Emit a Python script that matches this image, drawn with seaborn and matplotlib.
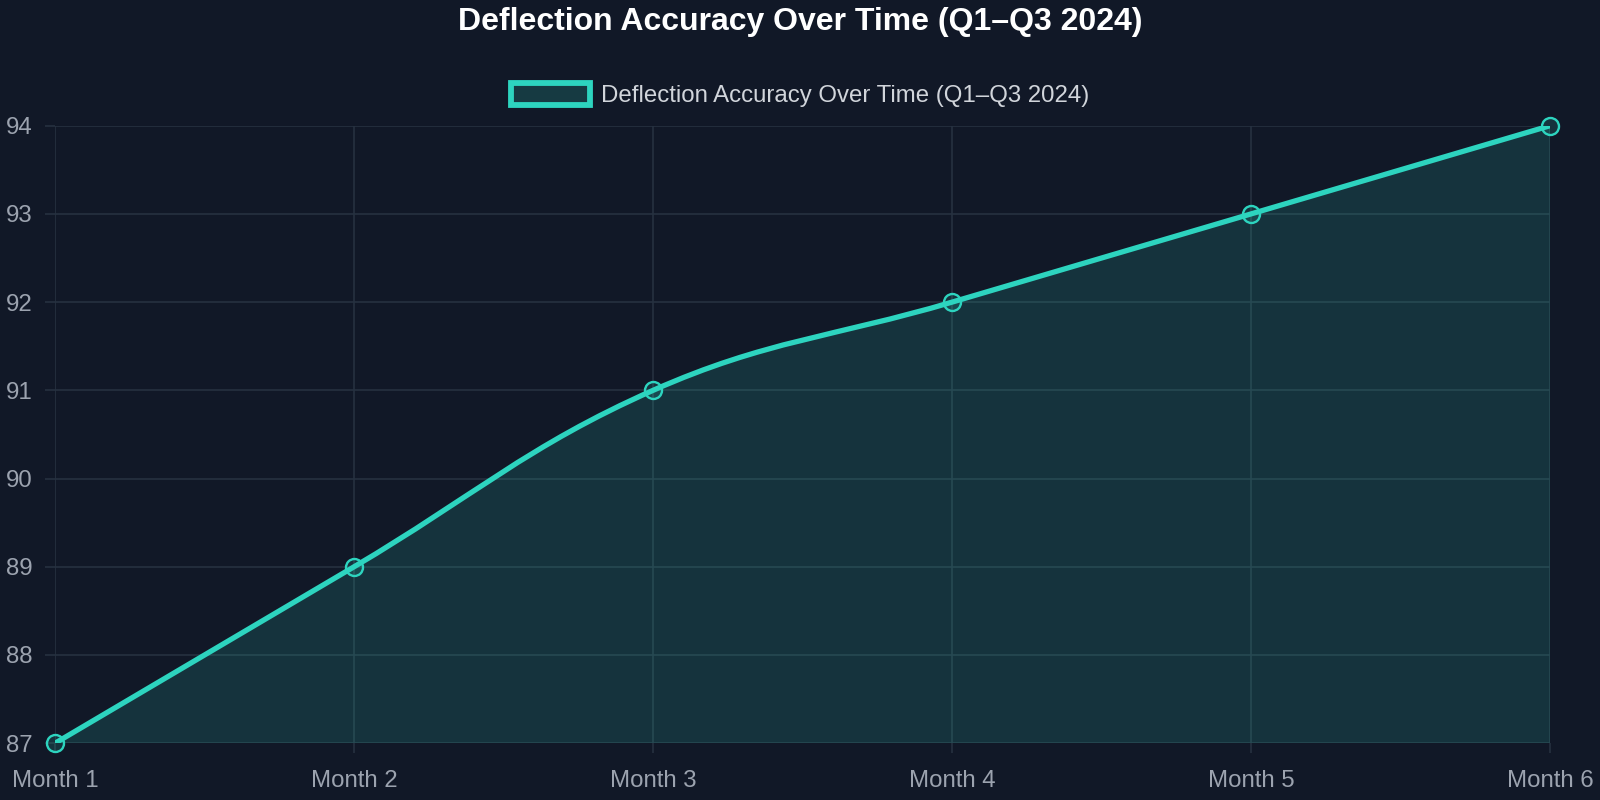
import numpy as np
import matplotlib
matplotlib.use("Agg")
import matplotlib.pyplot as plt
import seaborn as sns
from matplotlib.path import Path
from matplotlib.patches import PathPatch, Rectangle

months = ["Month 1", "Month 2", "Month 3", "Month 4", "Month 5", "Month 6"]
accuracy = [87, 89, 91, 92, 93, 94]
series_name = "Deflection Accuracy Over Time (Q1\u2013Q3 2024)"
y_ticks = [87, 88, 89, 90, 91, 92, 93, 94]

BG = "#111827"
GRID = "#263140"
TEAL = "#2dd4bf"
FILL = (45 / 255, 212 / 255, 191 / 255, 0.15)

sns.set_theme(style="dark")
plt.rcParams["font.family"] = ["Liberation Sans", "DejaVu Sans"]


def spline_path(ax, xs, ys, tension=0.4):
    """Chart.js-style cubic bezier through the points, computed in pixel space."""
    pts = ax.transData.transform(np.column_stack([xs, ys]))
    n = len(pts)
    cps = []
    for i in range(n):
        prev = pts[i - 1] if i > 0 else pts[i]
        cur = pts[i]
        nxt = pts[i + 1] if i < n - 1 else pts[i]
        d01 = np.hypot(*(cur - prev))
        d12 = np.hypot(*(nxt - cur))
        tot = d01 + d12
        s01 = d01 / tot if tot else 0
        s12 = d12 / tot if tot else 0
        cp1 = cur - tension * s01 * (nxt - prev)
        cp2 = cur + tension * s12 * (nxt - prev)
        cps.append((cp1, cp2))
    verts = [pts[0]]
    codes = [Path.MOVETO]
    for i in range(1, n):
        verts += [cps[i - 1][1], cps[i][0], pts[i]]
        codes += [Path.CURVE4] * 3
    inv = ax.transData.inverted()
    return inv.transform(np.array(verts)), codes


fig = plt.figure(figsize=(16, 8), dpi=100, facecolor=BG)
ax = fig.add_axes([0.0344, 0.071, 0.9346, 0.772])
ax.set_facecolor(BG)

x = np.arange(len(months))
ax.set_xlim(0, len(months) - 1)
ax.set_ylim(min(y_ticks), max(y_ticks))

verts, codes = spline_path(ax, x, accuracy)

# filled area below the curve
fill_verts = np.vstack([verts, [[x[-1], y_ticks[0]], [x[0], y_ticks[0]], verts[0]]])
fill_codes = codes + [Path.LINETO, Path.LINETO, Path.CLOSEPOLY]
ax.add_patch(PathPatch(Path(fill_verts, fill_codes), facecolor=FILL, edgecolor="none", zorder=1))
ax.add_patch(PathPatch(Path(verts, codes), facecolor="none", edgecolor=TEAL, lw=3.8,
                       capstyle="round", joinstyle="round", zorder=3))

sns.scatterplot(x=x, y=accuracy, ax=ax, s=150, marker="o", facecolor=FILL,
                edgecolor=TEAL, linewidth=1.7, zorder=4, clip_on=False)

ax.set_xticks(x)
ax.set_xticklabels(months)
ax.set_yticks(y_ticks)
ax.grid(True, color=GRID, lw=1.2)
ax.set_axisbelow(True)
for s in ax.spines.values():
    s.set_visible(False)
ax.tick_params(axis="both", colors=GRID, labelcolor="#9ca3af", labelsize=17.3,
               length=7, width=1.2, left=True, bottom=True)
ax.tick_params(axis="x", pad=12)
ax.tick_params(axis="y", pad=9)
ax.set_xlabel("")
ax.set_ylabel("")

fig.text(0.5, 0.973, series_name, ha="center", va="center", color="white",
         fontsize=23, fontweight="bold")

handle = Rectangle((0, 0), 1, 1, facecolor="#163a42", edgecolor=TEAL, lw=4.2)
leg = ax.legend([handle], [series_name], loc="center", bbox_to_anchor=(0.5, 0.881),
                bbox_transform=fig.transFigure, frameon=False, fontsize=17.3,
                handlelength=3.3, handleheight=1.0, handletextpad=0.45)
for t in leg.get_texts():
    t.set_color("#d1d5db")

fig.savefig("out.png", dpi=100, facecolor=BG)
